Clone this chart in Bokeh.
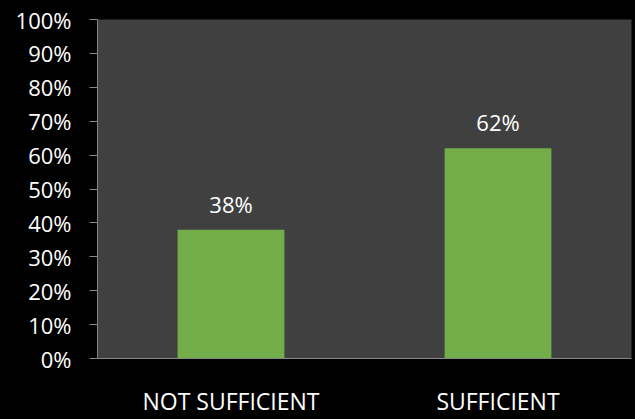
from bokeh.plotting import figure
from bokeh.models import ColumnDataSource, NumeralTickFormatter, FixedTicker, Range1d
from bokeh.core.properties import value
from bokeh.embed import file_html
from bokeh.resources import INLINE

categories = ["NOT SUFFICIENT", "SUFFICIENT"]
values = [0.38, 0.62]
labels = ["38%", "62%"]
y_ticks = [0, 0.1, 0.2, 0.3, 0.4, 0.5, 0.6, 0.7, 0.8, 0.9, 1.0]

FONT = "Open Sans"

src = ColumnDataSource(dict(cat=categories, val=values, lab=labels))

p = figure(x_range=categories, y_range=Range1d(0, 1), width=635, height=419,
           output_backend="svg", toolbar_location=None,
           min_border_left=97, min_border_right=4, min_border_top=19, min_border_bottom=58)
p.x_range.range_padding = 0
p.background_fill_color = "#404040"
p.border_fill_color = "#000000"
p.outline_line_color = None
p.grid.visible = False

p.vbar(x="cat", top="val", width=0.4, source=src, fill_color="#72ad4a", line_color=None)
p.text(x="cat", y="val", text="lab", source=src, text_color="#ffffff",
       text_font=value(FONT), text_font_size="22px", text_align="center",
       text_baseline="alphabetic", y_offset=-26)

p.yaxis.ticker = FixedTicker(ticks=y_ticks)
p.yaxis.formatter = NumeralTickFormatter(format="0%")
for ax in (p.xaxis[0], p.yaxis[0]):
    ax.axis_line_color = "#868686"
    ax.major_tick_line_color = "#868686"
    ax.minor_tick_line_color = None
    ax.major_label_text_color = "#ffffff"
    ax.major_label_text_font = FONT
    ax.major_label_text_font_size = "22px"
p.yaxis.major_tick_in = 0
p.yaxis.major_tick_out = 8
p.xaxis.major_tick_in = 0
p.xaxis.major_tick_out = 0
p.xaxis.major_label_standoff = 26
p.xaxis.major_label_text_font_size = "23px"
p.yaxis.major_label_standoff = 18

html = file_html(p, INLINE)
html = html.replace("<head>", "<head><style>html,body{background:#000000;margin:0;padding:0;}</style>", 1)
open("out.html", "w").write(html)
